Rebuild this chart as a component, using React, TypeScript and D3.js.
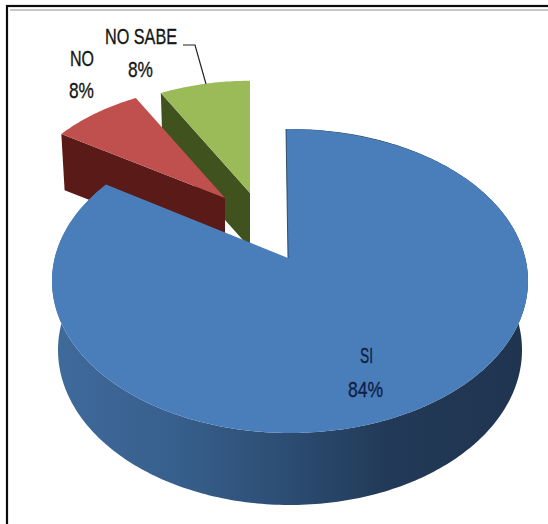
import React from "react";
import { pie as d3pie, line as d3line, range as d3range } from "d3";

const categories = ["SI", "NO", "NO SABE"];
const percents = [84, 8, 8];
const labelLines = ["SI", "84%", "NO", "8%", "NO SABE", "8%"];
const topColors = ["#4a7ebb", "#c0504d", "#9bbb59"];
const cutColors = ["#17304f", "#5a1a18", "#40531f"];

const W = 548, H = 524;
const ellipseTop = { cx: 290, cy: 281, rx: 238, ry: 152 };
const ellipseLow = { cx: 290, cy: 350, rx: 232, ry: 155 };
const tilt = 0.15;
const pieApex: [number, number] = [288, 258];
const sliceScaleX = 0.89;
const sliceScaleY = 0.87;
const sliceApex: Record<string, [number, number]> = { NO: [225, 198], "NO SABE": [250, 193] };
const sliceDepth = 55;

function rim(e: typeof ellipseTop, phi: number, leanBy = 0): [number, number] {
  const u = Math.sin(phi), v = Math.cos(phi);
  const d = 1 + tilt * v;
  const vp = (v + tilt) / d;
  const up = (u * Math.sqrt(1 - tilt * tilt)) / d;
  // the photographed pie leans slightly near its back edge
  const lean = -leanBy * Math.pow(Math.max(0, vp), 10);
  return [e.cx + e.rx * up + lean, e.cy - e.ry * vp];
}
const arcPts = (a0: number, a1: number) => {
  const n = Math.max(4, Math.ceil(Math.abs(a1 - a0) * 60));
  return d3range(n + 1).map((i: number) => a0 + ((a1 - a0) * i) / n);
};
const path = d3line<[number, number]>();
const closed = (pts: [number, number][]) => (path(pts) as string) + "Z";

// first slice starts at 12 o'clock, clockwise, in data order
const arcs = d3pie<number>().sort(null)(percents);
const blue = arcs[0], red = arcs[1], green = arcs[2];

function slice(arc: { startAngle: number; endAngle: number }, apex: [number, number]) {
  const top = (phi: number): [number, number] => {
    const p = rim(ellipseTop, phi);
    return [apex[0] + (p[0] - ellipseTop.cx) * sliceScaleX, apex[1] + (p[1] - pieApex[1]) * sliceScaleY];
  };
  const low = (phi: number): [number, number] => {
    const p = top(phi);
    return [apex[0] + (p[0] - apex[0]) * 0.98, apex[1] + sliceDepth + (p[1] - apex[1]) * 0.98];
  };
  const a0 = arc.startAngle, a1 = arc.endAngle;
  const face = closed([apex, ...arcPts(a0, a1).map(top)]);
  const lowApex: [number, number] = [apex[0], apex[1] + sliceDepth];
  const cut = closed([apex, top(a0), low(a0), lowApex]);
  return { face, cut };
}

const redS = slice(red, sliceApex["NO"]);
const greenS = slice(green, sliceApex["NO SABE"]);

const blueLean = 4;
const blueFace = closed([pieApex, ...arcPts(blue.startAngle, blue.endAngle).map((p: number) => rim(ellipseTop, p, blueLean))]);
const bluePhis = arcPts(blue.startAngle, blue.endAngle);
const blueWall = closed([
  ...bluePhis.map((p: number) => rim(ellipseTop, p)),
  ...bluePhis.slice().reverse().map((p: number) => rim(ellipseLow, p)),
]);
const blueCut = path([rim(ellipseTop, blue.startAngle, blueLean), pieApex]) as string;

const narrow = "'Liberation Sans Narrow','Liberation Sans','DejaVu Sans Condensed',sans-serif";

function Label({ x, y, w, text, fill = "#161616" }: { x: number; y: number; w: number; text: string; fill?: string }) {
  return (
    <text x={x} y={y} fontFamily={narrow} fontSize={22.5} fill={fill} stroke={fill} strokeWidth={0.35}
      textLength={w} lengthAdjust="spacingAndGlyphs">
      {text}
    </text>
  );
}

export default function App() {
  return (
    <svg width={W} height={H} viewBox={`0 0 ${W} ${H}`} style={{ position: "fixed", left: 0, top: 0, background: "#fff" }}>
      <defs>
        <linearGradient id="wall" gradientUnits="userSpaceOnUse" x1={52} x2={528} y1={0} y2={0}>
          <stop offset="0" stopColor="#3f6a9b" />
          <stop offset="0.25" stopColor="#38608e" />
          <stop offset="0.5" stopColor="#2c4c72" />
          <stop offset="0.7" stopColor="#223a58" />
          <stop offset="1" stopColor="#1f344f" />
        </linearGradient>
      </defs>
      <rect x={0} y={0} width={W} height={H} fill="#fff" />
      <rect x={7} y={6} width={W} height={H} fill="none" stroke="#0c0c0c" strokeWidth={2.2} />
      <path d={`M10 10H${W}`} stroke="#b4b4b4" strokeWidth={1.6} fill="none" />

      <path d={greenS.cut} fill={cutColors[2]} />
      <path d={greenS.face} fill={topColors[2]} />
      <path d={redS.cut} fill={cutColors[1]} />
      <path d={redS.face} fill={topColors[1]} />
      <path d={blueWall} fill="url(#wall)" />
      <path d={blueFace} fill={topColors[0]} />
      <path d={blueCut} stroke={cutColors[0]} strokeWidth={0.8} fill="none" />

      <path d="M183 45H195L206 84" fill="none" stroke="#222" strokeWidth={1.2} />

      <Label x={360} y={363} w={13} text={labelLines[0]} fill="#0f1f45" />
      <Label x={348} y={397} w={35} text={labelLines[1]} fill="#0f1f45" />
      <Label x={70} y={66} w={24} text={labelLines[2]} />
      <Label x={69} y={98} w={25} text={labelLines[3]} />
      <Label x={105} y={44} w={72} text={labelLines[4]} />
      <Label x={128} y={77} w={25} text={labelLines[5]} />
    </svg>
  );
}
